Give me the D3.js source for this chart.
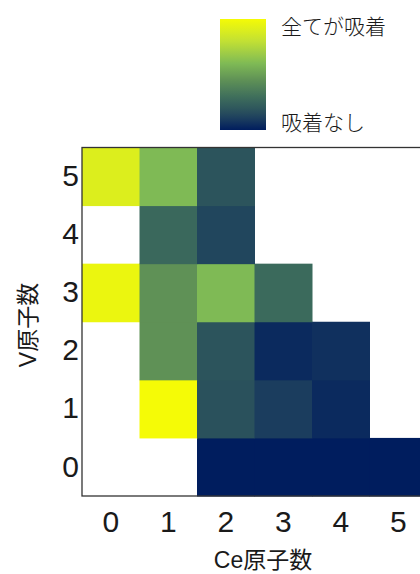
<!DOCTYPE html>
<html>
<head>
<meta charset="utf-8">
<script src="https://cdn.jsdelivr.net/npm/d3@7"></script>
<style>
html,body{margin:0;padding:0;background:#fff;}
svg{display:block;}
</style>
</head>
<body>
<svg id="chart" width="420" height="574"></svg>
<script>
// ---- data ----
const ceLabels = ["0", "1", "2", "3", "4", "5"];
const vLabels = ["0", "1", "2", "3", "4", "5"];
// adsorption ratio (0 = none, 1 = all), rows by V count, columns by Ce count; null = no data
const valuesV0 = [null, null, 0.00, 0.00, 0.00, 0.00];
const valuesV1 = [null, 1.00, 0.17, 0.10, 0.04, null];
const valuesV2 = [null, 0.45, 0.18, 0.04, 0.06, null];
const valuesV3 = [0.96, 0.45, 0.60, 0.28, null, null];
const valuesV4 = [null, 0.27, 0.13, null, null, null];
const valuesV5 = [0.90, 0.60, 0.18, null, null, null];
const legendTop = "全てが吸着";
const legendBottom = "吸着なし";
const xTitle = "Ce原子数";
const yTitle = "V原子数";

(function () {
const rows = [valuesV0, valuesV1, valuesV2, valuesV3, valuesV4, valuesV5];
const cells = [];
rows.forEach((r, vi) => r.forEach((val, ci) => {
  if (val !== null) cells.push({v: vLabels[vi], ce: ceLabels[ci], val});
}));

// ---- colormap ----
const stopVals = [0, 0.1, 0.18, 0.28, 0.45, 0.6, 0.8, 1];
const stopCols = ["#001d5e", "#1b3d5e", "#2c545c", "#3b6a5c", "#5f9156", "#7fba55", "#c2e034", "#f5fb06"];
const color = d3.scaleLinear().domain(stopVals).range(stopCols).interpolate(d3.interpolateRgb);

const svg = d3.select("#chart");
const pL = 82, pT = 147.5, pR = 427, pB = 496;

const x = d3.scaleBand().domain(ceLabels).range([pL, pR]);
const y = d3.scaleBand().domain(vLabels.slice().reverse()).range([pT, pB]);

// cells
svg.append("g").selectAll("rect").data(cells).join("rect")
  .attr("x", d => x(d.ce))
  .attr("y", d => y(d.v))
  .attr("width", x.bandwidth() + 0.5)
  .attr("height", y.bandwidth() + 0.5)
  .attr("fill", d => color(d.val));

// frame
svg.append("rect")
  .attr("x", pL).attr("y", pT)
  .attr("width", pR - pL).attr("height", pB - pT)
  .attr("fill", "none").attr("stroke", "#333").attr("stroke-width", 1.3);

const tickFont = "'Liberation Sans', Arial, sans-serif";
const xAxis = svg.append("g").attr("transform", `translate(0,${pB})`)
  .call(d3.axisBottom(x).tickSize(0).tickPadding(15));
const yAxis = svg.append("g").attr("transform", `translate(${pL},0)`)
  .call(d3.axisLeft(y).tickSize(0).tickPadding(3));
[xAxis, yAxis].forEach(g => {
  g.select(".domain").remove();
  g.selectAll("text").attr("font-family", tickFont).attr("font-size", 30).attr("fill", "#1a1a1a");
});

const labelFont = "'Liberation Sans', 'Noto Sans CJK JP', sans-serif";
svg.append("text")
  .attr("x", 263).attr("y", 568)
  .attr("text-anchor", "middle")
  .attr("font-family", labelFont).attr("font-size", 23).attr("fill", "#1a1a1a")
  .text(xTitle);
svg.append("text")
  .attr("transform", "translate(36,325) rotate(-90)")
  .attr("text-anchor", "middle")
  .attr("font-family", labelFont).attr("font-size", 23).attr("fill", "#1a1a1a")
  .text(yTitle);

// legend colorbar
const lx = 220, ly = 19, lw = 46, lh = 111;
const defs = svg.append("defs");
const grad = defs.append("linearGradient").attr("id", "cbar")
  .attr("x1", 0).attr("y1", 1).attr("x2", 0).attr("y2", 0);
d3.range(0, 1.0001, 0.05).forEach(t => {
  grad.append("stop").attr("offset", t).attr("stop-color", color(t));
});
svg.append("rect").attr("x", lx).attr("y", ly).attr("width", lw).attr("height", lh)
  .attr("fill", "url(#cbar)");

const legFont = "'Noto Sans CJK JP', sans-serif";
svg.append("text").attr("x", 281).attr("y", 34)
  .attr("font-family", legFont).attr("font-size", 21).attr("font-weight", 300).attr("fill", "#1a1a1a")
  .text(legendTop);
svg.append("text").attr("x", 281).attr("y", 130)
  .attr("font-family", legFont).attr("font-size", 21).attr("font-weight", 300).attr("fill", "#1a1a1a")
  .text(legendBottom);
})();
</script>
</body>
</html>
